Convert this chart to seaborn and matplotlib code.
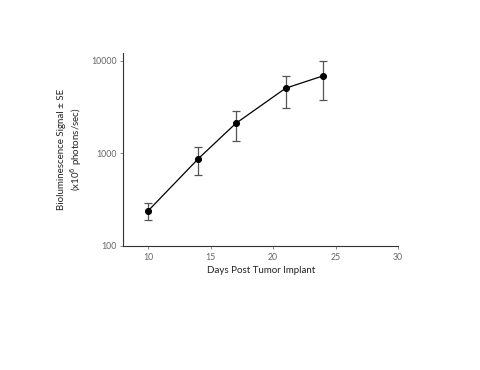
import matplotlib
matplotlib.use("Agg")
import matplotlib.pyplot as plt
import seaborn as sns
import numpy as np
import pandas as pd

# data
days = [10, 14, 17, 21, 24]
signal = [239, 869, 2090, 5026, 6835]
err_low = [189, 579, 1360, 3110, 3796]
err_high = [286, 1151, 2818, 6887, 9915]

df = pd.DataFrame({"day": days, "signal": signal})

sns.set_style("white")
plt.rcParams['font.family'] = ['Lato', 'DejaVu Sans']

fig = plt.figure(figsize=(4.8, 3.7), dpi=100)
ax = fig.add_axes([0.257, 0.336, 0.572, 0.521])

# error bars (asymmetric, log scale)
yerr = [np.array(signal) - np.array(err_low), np.array(err_high) - np.array(signal)]
ax.errorbar(days, signal, yerr=yerr, fmt="none", ecolor="#555555",
            elinewidth=0.9, capsize=3, capthick=0.9, zorder=2)
sns.lineplot(data=df, x="day", y="signal", ax=ax, color="black", linewidth=0.9,
             marker="o", markersize=4.3, markeredgecolor="black", zorder=3)

ax.set_yscale("log")
ax.set_ylim(100, 12100)
ax.set_xlim(8, 30)
ax.set_xticks([10, 15, 20, 25, 30])
ax.set_yticks([100, 1000, 10000])
ax.set_yticklabels(["100", "1000", "10000"])
ax.minorticks_off()

for s in ["top", "right"]:
    ax.spines[s].set_visible(False)
for s in ["left", "bottom"]:
    ax.spines[s].set_color("#333333")
    ax.spines[s].set_linewidth(0.8)

ax.tick_params(axis="both", labelsize=6.3, colors="#777777", labelcolor="#666666",
               length=2.5, width=0.6, direction="out", bottom=True, left=True, pad=2.5)
ax.set_xlabel("Days Post Tumor Implant", fontsize=7, color="#222222", labelpad=3)
ax.set_ylabel("Bioluminescence Signal ± SE\n(x10$^6$ photons/sec)", fontsize=7,
              color="#222222", labelpad=5)

fig.savefig("out.png", dpi=100)
